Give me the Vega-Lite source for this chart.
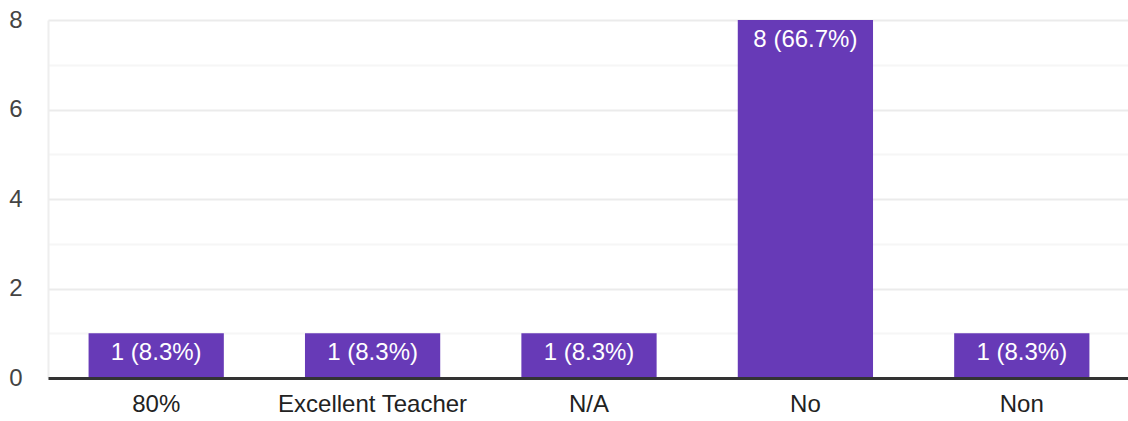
{
  "$schema": "https://vega.github.io/schema/vega-lite/v6.json",
  "width": 1082,
  "height": 358,
  "autosize": {"type": "none"},
  "padding": {"left": 48, "top": 20, "right": 0, "bottom": 43},
  "background": "white",
  "config": {
    "view": {"stroke": null},
    "font": "Liberation Sans"
  },
  "data": {
    "values": [
      {"answer": "80%", "count": 1, "label": "1 (8.3%)"},
      {"answer": "Excellent Teacher", "count": 1, "label": "1 (8.3%)"},
      {"answer": "N/A", "count": 1, "label": "1 (8.3%)"},
      {"answer": "No", "count": 8, "label": "8 (66.7%)"},
      {"answer": "Non", "count": 1, "label": "1 (8.3%)"}
    ]
  },
  "encoding": {
    "x": {
      "field": "answer",
      "type": "nominal",
      "sort": null,
      "scale": {"paddingInner": 0.375, "paddingOuter": 0.1875},
      "axis": {
        "title": null,
        "labelAngle": 0,
        "labelFontSize": 24,
        "labelLimit": 400,
        "labelColor": "#222222",
        "labelPadding": 14,
        "ticks": false,
        "domainColor": "#333333",
        "domainWidth": 3,
        "zindex": 1
      }
    },
    "y": {
      "field": "count",
      "type": "quantitative",
      "scale": {"domain": [0, 8], "nice": false},
      "axis": {
        "title": null,
        "values": [0, 1, 2, 3, 4, 5, 6, 7, 8],
        "labelExpr": "datum.value % 2 === 0 ? datum.label : ''",
        "labelFontSize": 24,
        "labelColor": "#444444",
        "labelPadding": 26,
        "ticks": false,
        "domainColor": "#eeeeee",
        "domainWidth": 2,
        "gridColor": {"condition": {"test": "datum.value % 2 === 1", "value": "#f6f6f6"}, "value": "#ebebeb"},
        "gridWidth": 2
      }
    }
  },
  "layer": [
    {"mark": {"type": "bar", "color": "#673AB7"}},
    {
      "mark": {"type": "text", "color": "white", "fontSize": 24, "baseline": "middle", "dy": 20},
      "encoding": {"text": {"field": "label"}}
    }
  ]
}
